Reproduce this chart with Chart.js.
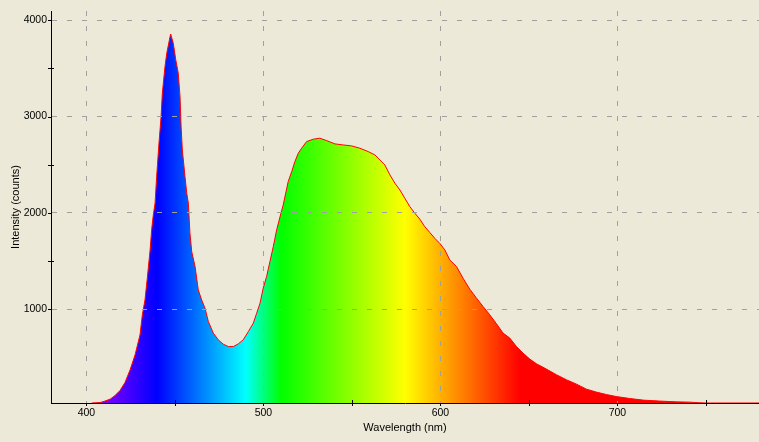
<!DOCTYPE html>
<html>
<head>
<meta charset="utf-8">
<title>Spectrum</title>
<script src="https://cdn.jsdelivr.net/npm/chart.js@4.4.1/dist/chart.umd.min.js"></script>
<style>
  html, body { margin: 0; padding: 0; background: #ECE9D8; }
  #wrap { width: 759px; height: 442px; position: relative; }
</style>
</head>
<body>
<div id="wrap"><canvas id="spektrum"></canvas></div>
<script>
// wavelength (nm) and intensity (counts)
const wavelengths = [
  403, 407.8, 410, 413.4, 416, 419, 421.8, 424.7, 427.5, 430.3,
  431.6, 433.1, 434.4, 436, 436.9, 437.8, 438.8, 439.7, 441, 442.2,
  442.9, 444.4, 445.4, 446.9, 447.6, 449.1, 450.5, 451.9, 452.9, 453.5,
  454.2, 455.7, 456.7, 457.6, 458.5, 459.5, 461.4, 463.2, 465.1, 467,
  468.9, 471.7, 474.5, 477.3, 480.2, 483, 485.8, 488.6, 491.5, 494.3,
  496.2, 498.1, 499.9, 501.8, 503.7, 505.6, 507.5, 509.9, 511.2, 512.6,
  514, 516, 517.8, 519.7, 521.6, 524.4, 528.2, 531.9, 535.7, 540.4,
  545.1, 549.8, 554.5, 559.2, 563, 565.8, 568.6, 571.5, 574.3, 577.1,
  579.9, 582.7, 585.6, 588.4, 591, 594, 596.9, 599.7, 602.5, 605.3,
  609.1, 612.8, 616.6, 620.4, 624.1, 627.9, 631.7, 635.4, 639.2, 643,
  646.7, 650.5, 654.3, 659.9, 665.6, 671.2, 676.9, 682.5, 688.1, 693.8,
  699.4, 706.9, 714.5, 723.9, 733.3, 740.8, 746, 750, 780
];
const intensity = [
  25, 30, 42, 65, 100, 155, 238, 370, 525, 733,
  940, 1096, 1320, 1615, 1830, 1978, 2100, 2376, 2723, 3000,
  3242, 3519, 3657, 3795, 3857, 3760, 3588, 3450, 3204, 2893,
  2653, 2376, 2203, 2100, 1789, 1598, 1442, 1200, 1096, 1010,
  871, 751, 681, 636, 611, 611, 639, 681, 767, 854,
  958, 1062, 1218, 1338, 1494, 1650, 1823, 1995, 2082, 2203,
  2324, 2428, 2532, 2619, 2671, 2740, 2765, 2775, 2750, 2716,
  2705, 2695, 2671, 2636, 2601, 2549, 2497, 2393, 2307, 2238,
  2151, 2065, 1995, 1934, 1860, 1796, 1734, 1682, 1615, 1511,
  1442, 1321, 1207, 1114, 1027, 941, 847, 751, 699, 611,
  543, 481, 432, 377, 318, 266, 221, 169, 138, 113,
  92, 72, 55, 45, 37, 34, 28, 25, 25
];
// tick positions: labelled ones and the small ones in between
const xTickLabels = [400, 500, 600, 700];
const xTickMinor = [450, 550, 650, 750];
const yTickLabels = [1000, 2000, 3000, 4000];
const yTickMinor = [1500, 2500, 3500];

// warna spektrum (nm -> warna)
const stopNm = [380, 440, 490, 510, 580, 645, 780];
const stopWarna = ['#FF00FF', '#0000FF', '#00FFFF', '#00FF00', '#FFFF00', '#FF0000', '#FF0000'];

const X_MIN = 380, X_MAX = 780;
const Y_MIN = 25, Y_MAX = 4096;

function gradienSpektrum(context) {
  const chart = context.chart;
  const { ctx, chartArea, scales } = chart;
  if (!chartArea || !scales.x) return null;
  const x0 = scales.x.getPixelForValue(X_MIN);
  const x1 = scales.x.getPixelForValue(X_MAX);
  const g = ctx.createLinearGradient(x0, 0, x1, 0);
  for (let i = 0; i < stopNm.length; i++) {
    g.addColorStop((stopNm[i] - X_MIN) / (X_MAX - X_MIN), stopWarna[i]);
  }
  return g;
}

function pasangTick(mayor, minor) {
  return function(scale) {
    scale.ticks = mayor.concat(minor).sort((a, b) => a - b).map(v => ({ value: v }));
  };
}

// tanda tick (mayor di luar, minor menyilang sumbu)
const tandaTick = {
  id: 'tandaTick',
  afterDraw(chart) {
    const { ctx, chartArea, scales } = chart;
    ctx.save();
    ctx.strokeStyle = '#000';
    ctx.lineWidth = 1;
    ctx.beginPath();
    scales.x.ticks.forEach(t => {
      const px = Math.round(scales.x.getPixelForValue(t.value)) + 0.5;
      const mayor = xTickLabels.includes(t.value);
      ctx.moveTo(px, chartArea.bottom + 3);
      ctx.lineTo(px, mayor ? chartArea.bottom : chartArea.bottom - 3);
    });
    scales.y.ticks.forEach(t => {
      const py = Math.round(scales.y.getPixelForValue(t.value)) + 0.5;
      const mayor = yTickLabels.includes(t.value);
      ctx.moveTo(chartArea.left - 3, py);
      ctx.lineTo(mayor ? chartArea.left : chartArea.left + 3, py);
    });
    ctx.stroke();
    ctx.restore();
  }
};

const ctx = document.getElementById('spektrum').getContext('2d');

new Chart(ctx, {
  type: 'line',
  data: {
    datasets: [{
      label: 'Intensity',
      data: wavelengths.map((w, i) => ({ x: w, y: intensity[i] })),
      borderColor: '#FF0000',
      borderWidth: 1,
      pointRadius: 0,
      tension: 0,
      fill: 'origin',
      backgroundColor: gradienSpektrum
    }]
  },
  options: {
    responsive: true,
    maintainAspectRatio: false,
    animation: false,
    layout: { padding: { top: 11, right: 0, left: 0, bottom: 0 } },
    plugins: {
      legend: { display: false },
      tooltip: { enabled: false }
    },
    scales: {
      x: {
        type: 'linear',
        min: X_MIN,
        max: X_MAX,
        afterBuildTicks: pasangTick(xTickLabels, xTickMinor),
        afterFit: function(scale) { scale.height = 39; },
        ticks: {
          autoSkip: false,
          maxRotation: 0,
          padding: 4,
          color: '#000',
          font: { family: 'Liberation Sans', size: 10.5 },
          callback: function(value) { return xTickLabels.includes(value) ? String(value) : ''; }
        },
        grid: {
          z: 1,
          drawTicks: false,
          lineWidth: 1,
          color: function(c) { return c.tick && xTickLabels.includes(c.tick.value) ? '#A0A0A0' : 'rgba(0,0,0,0)'; }
        },
        border: { display: true, color: '#000', width: 1, dash: [5, 10], z: 1 },
        title: {
          display: true,
          text: 'Wavelength (nm)',
          color: '#000',
          font: { family: 'Liberation Sans', size: 11 },
          padding: { top: 0, bottom: 7 }
        }
      },
      y: {
        min: Y_MIN,
        max: Y_MAX,
        afterBuildTicks: pasangTick(yTickLabels, yTickMinor),
        afterFit: function(scale) { scale.width = 51; },
        ticks: {
          autoSkip: false,
          padding: 4,
          color: '#000',
          font: { family: 'Liberation Sans', size: 10.5 },
          callback: function(value) { return yTickLabels.includes(value) ? String(value) : ''; }
        },
        grid: {
          z: 1,
          drawTicks: false,
          lineWidth: 1,
          color: function(c) { return c.tick && yTickLabels.includes(c.tick.value) ? '#A0A0A0' : 'rgba(0,0,0,0)'; }
        },
        border: { display: true, color: '#000', width: 1, dash: [5, 10], z: 1 },
        title: {
          display: true,
          text: 'Intensity (counts)',
          color: '#000',
          font: { family: 'Liberation Sans', size: 11 },
          padding: { top: 9, bottom: 0 }
        }
      }
    }
  },
  plugins: [tandaTick]
});
</script>
</body>
</html>
